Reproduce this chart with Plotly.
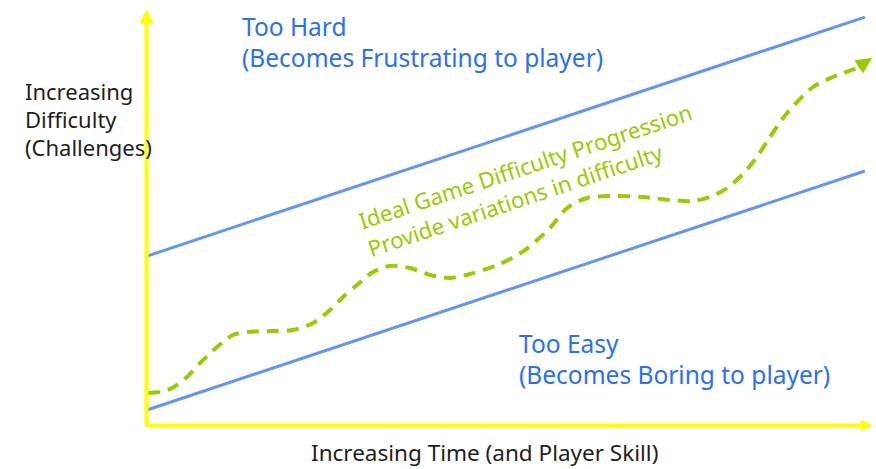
import plotly.graph_objects as go

# ---- data (time %, difficulty %) ----
bound_time = [0, 99.7]
too_hard = [41.2, 99.5]
too_easy = [3.66, 61.95]

ideal_time = [0.14, 1.81, 3.47, 5.69, 7.36, 9.72, 11.94, 14.03, 17.5, 20.28, 23.06, 25.42,
              27.22, 29.17, 31.39, 33.75, 36.53, 39.31, 42.08, 44.86, 49.03, 52.5, 55.97,
              58.33, 61.11, 64.31, 68.89, 72.64, 75.83, 78.19, 80.56, 82.64, 84.72, 86.25,
              88.89, 92.5, 95.28, 98.61]
ideal_diff = [7.80, 8.05, 9.02, 11.95, 15.12, 19.02, 21.95, 22.68, 22.93, 23.17, 24.88, 28.05,
              31.22, 34.15, 37.32, 38.78, 38.29, 36.59, 35.85, 36.83, 39.27, 42.68, 48.05,
              52.93, 55.37, 55.85, 55.61, 54.88, 54.63, 55.61, 57.80, 60.98, 65.37, 69.51,
              76.10, 82.44, 84.88, 87.07]
ideal_tip = (100.7, 89.5)

BLUE_LINE = "#6195F7"
BLUE_TEXT = "#2A70F5"
GREEN = "#99CC00"
YELLOW = "#FFFF00"
DARK = "#1E1E1E"
FONT = "Noto Sans"

fig = go.Figure()
fig.add_trace(go.Scatter(x=bound_time, y=too_hard, mode="lines",
                         line=dict(color=BLUE_LINE, width=3), hoverinfo="skip"))
fig.add_trace(go.Scatter(x=bound_time, y=too_easy, mode="lines",
                         line=dict(color=BLUE_LINE, width=3), hoverinfo="skip"))
fig.add_trace(go.Scatter(x=ideal_time, y=ideal_diff, mode="lines",
                         line=dict(color=GREEN, width=4, dash="12px,8px", shape="spline", smoothing=0.8),
                         hoverinfo="skip"))

ann = []
# axes arrows
ann.append(dict(x=-0.07, y=101.4, ax=-0.07, ay=-0.6, xref="x", yref="y", axref="x", ayref="y",
                text="", showarrow=True, arrowhead=2, arrowsize=0.7, arrowwidth=4, arrowcolor=YELLOW))
ann.append(dict(x=100.8, y=-0.12, ax=-0.3, ay=-0.12, xref="x", yref="y", axref="x", ayref="y",
                text="", showarrow=True, arrowhead=2, arrowsize=0.6, arrowwidth=4, arrowcolor=YELLOW))
# ideal curve arrow
ann.append(dict(x=ideal_tip[0], y=ideal_tip[1], ax=ideal_time[-1], ay=ideal_diff[-1],
                xref="x", yref="y", axref="x", ayref="y",
                text="", showarrow=True, arrowhead=2, arrowsize=0.8, arrowwidth=4, arrowcolor=GREEN))

def txt(x, y, s, size, color, xanchor="left"):
    ann.append(dict(x=x, y=y, xref="x", yref="y", text=s, showarrow=False,
                    xanchor=xanchor, yanchor="middle",
                    font=dict(family=FONT, size=size, color=color)))

txt(12.9, 97.3, "Too Hard", 24.5, BLUE_TEXT)
txt(12.9, 89.6, "(Becomes Frustrating to player)", 24.5, BLUE_TEXT)
txt(51.4, 20.0, "Too Easy", 24.5, BLUE_TEXT)
txt(51.4, 12.2, "(Becomes Boring to player)", 24.5, BLUE_TEXT)
txt(-17.2, 81.5, "Increasing", 22, DARK)
txt(-17.2, 74.6, "Difficulty", 22, DARK)
txt(-17.2, 67.8, "(Challenges)", 22, DARK)
txt(46.9, -6.6, "Increasing Time (and Player Skill)", 22.5, DARK, xanchor="center")

ann.append(dict(x=53.2, y=59.8, xref="x", yref="y",
                text="Ideal Game Difficulty Progression<br>Provide variations in difficulty",
                showarrow=False, align="left", textangle=-18.43,
                xanchor="center", yanchor="middle",
                font=dict(family=FONT, size=22.3, color=GREEN)))

fig.update_layout(
    width=876, height=469,
    margin=dict(l=0, r=0, t=0, b=0),
    paper_bgcolor="white", plot_bgcolor="white",
    showlegend=False,
    xaxis=dict(range=[-20.417, 101.25], visible=False, fixedrange=True),
    yaxis=dict(range=[-10.732, 103.659], visible=False, fixedrange=True),
    annotations=ann,
)

fig.write_html("out.html", config={"displayModeBar": False},
               post_script="document.body.style.margin='0';document.body.style.overflow='hidden';")
